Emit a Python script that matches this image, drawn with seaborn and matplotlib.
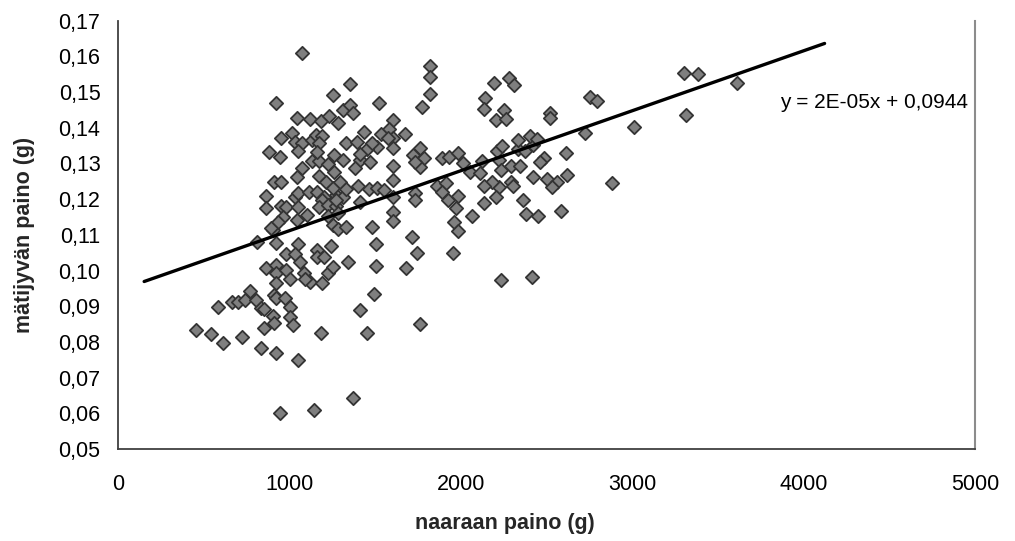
import matplotlib
matplotlib.use("Agg")
import matplotlib.pyplot as plt
import seaborn as sns
import numpy as np
import pandas as pd
from matplotlib.ticker import FuncFormatter, FixedLocator

# --- data ---
naaraan_paino = [
    450, 540, 610, 720, 580, 660, 700, 740, 770, 800, 830, 850, 910, 920, 970, 1000,
    900, 910, 1000, 1020, 850, 830, 920, 1050, 1180, 940, 1140, 860, 920, 920, 980,
    1000, 920, 1050, 980, 1030, 1060, 1080, 1120, 1090, 1190, 1160, 1160, 1200, 1240,
    1220, 1250, 1340, 810, 920, 900, 1370, 1490, 1410, 1450, 1760, 2230, 2410,
    860, 860, 950, 980, 1030, 1050, 1110, 1160, 1200, 1190, 1050, 1170, 1220, 1270,
    1270, 1310, 1220, 1280, 960, 930, 890, 1040, 1100, 1250, 1280, 1330,
    1070, 1040, 1130, 1170, 1220, 1260, 1260, 1310, 910, 950, 1170, 1210, 1250, 1290,
    1330, 1270, 1410,
    920, 1250, 1040, 1120, 1180, 1230, 1280, 1310, 1350, 1010, 950, 1030, 1070, 1050,
    1130, 1150, 1190, 1170, 1160, 1330, 880, 940, 1370, 1520, 1770, 1600, 1580, 1530,
    1430, 1670, 1600, 1570, 1510, 1450, 1480, 1390, 1410, 1470, 1380, 1600, 1600, 1600,
    1760, 1720, 1780, 1760, 1730, 1890, 1930, 1980, 2010, 2050, 2110, 2120, 2220, 2210,
    2240, 2230, 2290, 2340, 2330, 2370, 2420, 2330, 2400, 2440, 2610, 2480, 2460, 2420,
    2500, 2560, 2530, 2620, 2880, 2290, 2300, 2220, 2180, 2130, 2200, 2130, 2360, 2380,
    2450, 2580, 1860, 1910, 1890, 1920, 1980, 1970, 2060, 1960, 1980, 1950,
    1400, 1460, 1510, 1550, 1600, 1730, 1730, 1410, 1600, 1600, 1480, 1500, 1710, 1740,
    1680, 1500, 1070, 1350, 1820, 1820, 1820, 2190, 2280, 2310, 2140, 2130, 2250, 2200,
    2260, 2520, 2520, 2750, 2790, 3010, 2720, 3300, 3380, 3610, 3310,
]
matijyvan_paino = [
    0.0832, 0.0822, 0.0798, 0.0815, 0.0899, 0.0912, 0.0912, 0.0918, 0.0944, 0.0918,
    0.0895, 0.0893, 0.0932, 0.0923, 0.0923, 0.0899, 0.0873, 0.0854, 0.0870, 0.0848,
    0.0838, 0.0783, 0.0770, 0.0748, 0.0826, 0.0602, 0.0608, 0.1007, 0.1016, 0.0994,
    0.1002, 0.0976, 0.0966, 0.1075, 0.1046, 0.1046, 0.1023, 0.0994, 0.0969, 0.0976,
    0.0965, 0.1057, 0.1039, 0.1039, 0.1069, 0.0994, 0.1010, 0.1023, 0.1079, 0.1078,
    0.1114, 0.0642, 0.0933, 0.0888, 0.0826, 0.0850, 0.0974, 0.0981,
    0.1209, 0.1175, 0.1181, 0.1178, 0.1206, 0.1218, 0.1220, 0.1220, 0.1206, 0.1198,
    0.1178, 0.1178, 0.1184, 0.1212, 0.1180, 0.1206, 0.1153, 0.1162, 0.1150, 0.1136,
    0.1120, 0.1142, 0.1155, 0.1128, 0.1117, 0.1122,
    0.1288, 0.1262, 0.1308, 0.1306, 0.1299, 0.1325, 0.1277, 0.1310, 0.1249, 0.1249,
    0.1264, 0.1248, 0.1231, 0.1248, 0.1229, 0.1198, 0.1310,
    0.1470, 0.1492, 0.1427, 0.1424, 0.1420, 0.1433, 0.1413, 0.1449, 0.1464, 0.1386,
    0.1371, 0.1360, 0.1357, 0.1334, 0.1367, 0.1380, 0.1377, 0.1358, 0.1333, 0.1357,
    0.1333, 0.1319, 0.1441, 0.1470, 0.1459, 0.1422, 0.1397, 0.1383, 0.1388, 0.1382,
    0.1372, 0.1372, 0.1347, 0.1341, 0.1357, 0.1360, 0.1327, 0.1304, 0.1287, 0.1343,
    0.1292, 0.1254, 0.1343, 0.1323, 0.1315, 0.1290, 0.1305, 0.1314, 0.1319, 0.1329,
    0.1301, 0.1275, 0.1274, 0.1308, 0.1310, 0.1335, 0.1348, 0.1282, 0.1292, 0.1292,
    0.1340, 0.1336, 0.1352, 0.1366, 0.1377, 0.1369, 0.1330, 0.1315, 0.1303, 0.1263,
    0.1256, 0.1248, 0.1235, 0.1269, 0.1246, 0.1247, 0.1237, 0.1235, 0.1249, 0.1237,
    0.1207, 0.1190, 0.1197, 0.1157, 0.1152, 0.1168, 0.1237, 0.1246, 0.1220, 0.1198,
    0.1208, 0.1175, 0.1152, 0.1136, 0.1112, 0.1050,
    0.1236, 0.1228, 0.1231, 0.1226, 0.1207, 0.1216, 0.1197, 0.1193, 0.1165, 0.1139,
    0.1123, 0.1075, 0.1095, 0.1050, 0.1007, 0.1012, 0.1610, 0.1522, 0.1573, 0.1543,
    0.1495, 0.1526, 0.1540, 0.1520, 0.1483, 0.1452, 0.1450, 0.1421, 0.1424, 0.1441,
    0.1427, 0.1486, 0.1476, 0.1402, 0.1386, 0.1554, 0.1550, 0.1526, 0.1436,
]

trend_slope = 1.68e-5
trend_intercept = 0.0944
trend_x = [150, 4120]
equation_text = "y = 2E-05x + 0,0944"
equation_pos = (3860, 0.1470)

x_ticks = [0, 1000, 2000, 3000, 4000, 5000]
y_ticks = [0.05, 0.06, 0.07, 0.08, 0.09, 0.10, 0.11, 0.12, 0.13, 0.14, 0.15, 0.16, 0.17]
x_label = "naaraan paino (g)"
y_label = "mätijyvän paino (g)"

# --- drawing ---
sns.set_theme(style="white")
plt.rcParams['font.family'] = ['Liberation Sans', 'DejaVu Sans']

fig = plt.figure(figsize=(10.15, 5.41), dpi=100)
ax = fig.add_axes([0.1167, 0.1701, 0.8443, 0.7917])

df = pd.DataFrame({"naaraan": naaraan_paino, "mati": matijyvan_paino})
sns.scatterplot(data=df, x="naaraan", y="mati", marker="D", s=46,
                color="#7f7f7f", edgecolor="#333333", linewidth=1.3,
                ax=ax, zorder=3, legend=False)

tx = np.array(trend_x, dtype=float)
ty = trend_slope * tx + trend_intercept
sns.lineplot(x=tx, y=ty, color="black", linewidth=2.4, ax=ax, zorder=4)

ax.text(equation_pos[0], equation_pos[1], equation_text, fontsize=15,
        ha="left", va="center", color="black", zorder=5)

ax.set_xlim(0, 5000)
ax.set_ylim(0.05, 0.17)
ax.xaxis.set_major_locator(FixedLocator(x_ticks))
ax.yaxis.set_major_locator(FixedLocator(y_ticks))
ax.xaxis.set_major_formatter(FuncFormatter(lambda v, p: f"{int(round(v))}"))
ax.yaxis.set_major_formatter(FuncFormatter(lambda v, p: f"{v:.2f}".replace(".", ",")))

ax.tick_params(axis="both", which="major", direction="out", length=5, width=1.0,
               color="#404040", labelsize=15.5, labelcolor="black")
ax.tick_params(axis="x", pad=13)
ax.tick_params(axis="y", pad=8)

for side in ["left", "bottom"]:
    ax.spines[side].set_color("#404040")
    ax.spines[side].set_linewidth(1.3)
ax.spines["right"].set_color("#8c8c8c")
ax.spines["right"].set_linewidth(1.5)
ax.spines["top"].set_visible(False)

ax.set_xlabel(x_label, fontsize=15.5, fontweight="bold", va="center")
ax.set_ylabel(y_label, fontsize=15.5, fontweight="bold", va="center")
ax.xaxis.set_label_coords(0.451, -0.173)
ax.yaxis.set_label_coords(-0.11, 0.5)
ax.grid(False)

fig.savefig("out.png", dpi=100, facecolor="white")
